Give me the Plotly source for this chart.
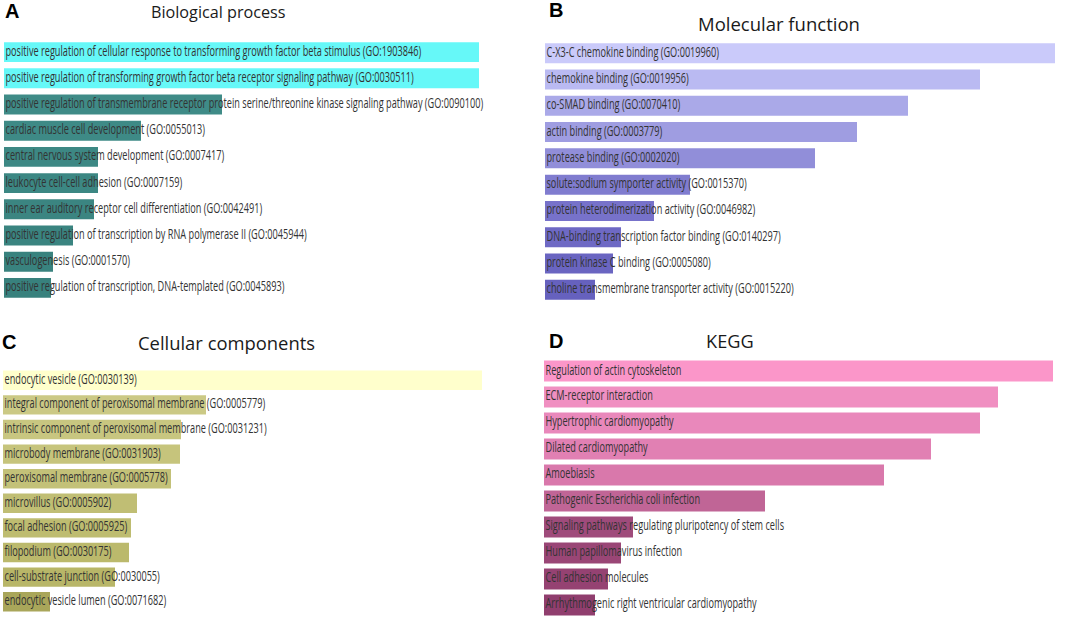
import plotly.graph_objects as go

W, H = 1072, 618

# ---------------- data ----------------
bp_terms = [
    "positive regulation of cellular response to transforming growth factor beta stimulus (GO:1903846)",
    "positive regulation of transforming growth factor beta receptor signaling pathway (GO:0030511)",
    "positive regulation of transmembrane receptor protein serine/threonine kinase signaling pathway (GO:0090100)",
    "cardiac muscle cell development (GO:0055013)",
    "central nervous system development (GO:0007417)",
    "leukocyte cell-cell adhesion (GO:0007159)",
    "inner ear auditory receptor cell differentiation (GO:0042491)",
    "positive regulation of transcription by RNA polymerase II (GO:0045944)",
    "vasculogenesis (GO:0001570)",
    "positive regulation of transcription, DNA-templated (GO:0045893)",
]
bp_values = [475, 475, 218, 137, 94, 94, 90, 69, 49, 47]
bp_colors = ["#66f8f8", "#66f8f8", "#3f8b87", "#3e8a86", "#3d8884", "#3c8783",
             "#3b8581", "#3a8480", "#39827e", "#38817d"]

mf_terms = [
    "C-X3-C chemokine binding (GO:0019960)",
    "chemokine binding (GO:0019956)",
    "co-SMAD binding (GO:0070410)",
    "actin binding (GO:0003779)",
    "protease binding (GO:0002020)",
    "solute:sodium symporter activity (GO:0015370)",
    "protein heterodimerization activity (GO:0046982)",
    "DNA-binding transcription factor binding (GO:0140297)",
    "protein kinase C binding (GO:0005080)",
    "choline transmembrane transporter activity (GO:0015220)",
]
mf_values = [510, 435, 363, 312, 270, 145, 109, 76, 68, 50]
mf_colors = ["#cacafa", "#babaf2", "#aaa9e8", "#9f9de1", "#918ed9", "#807ccf",
             "#7772ca", "#6e69c4", "#6a65c1", "#6661be"]

cc_terms = [
    "endocytic vesicle (GO:0030139)",
    "integral component of peroxisomal membrane (GO:0005779)",
    "intrinsic component of peroxisomal membrane (GO:0031231)",
    "microbody membrane (GO:0031903)",
    "peroxisomal membrane (GO:0005778)",
    "microvillus (GO:0005902)",
    "focal adhesion (GO:0005925)",
    "filopodium (GO:0030175)",
    "cell-substrate junction (GO:0030055)",
    "endocytic vesicle lumen (GO:0071682)",
]
cc_values = [479, 203, 178, 177, 168, 134, 128, 126, 112, 47]
cc_colors = ["#ffffcc", "#cbc985", "#c8c680", "#c6c47c", "#c3c178", "#c0be74",
             "#bebc70", "#bbb96c", "#b8b668", "#a9a65a"]

kegg_terms = [
    "Regulation of actin cytoskeleton",
    "ECM-receptor interaction",
    "Hypertrophic cardiomyopathy",
    "Dilated cardiomyopathy",
    "Amoebiasis",
    "Pathogenic Escherichia coli infection",
    "Signaling pathways regulating pluripotency of stem cells",
    "Human papillomavirus infection",
    "Cell adhesion molecules",
    "Arrhythmogenic right ventricular cardiomyopathy",
]
kegg_values = [509, 454, 436, 387, 340, 221, 89, 77, 64, 51]
kegg_colors = ["#fb96c9", "#f08fc1", "#e988bb", "#e180b3", "#d978ab", "#c06596",
               "#9f4b7b", "#9a4676", "#954272", "#903e6e"]

panel_titles = ["Biological process", "Molecular function", "Cellular components", "KEGG"]
panel_letters = ["A", "B", "C", "D"]

# ---------------- layout geometry (pixels) ----------------
panels = [
    dict(terms=bp_terms, values=bp_values, colors=bp_colors, left=4, top=39, bottom=301, bw=0.76),
    dict(terms=mf_terms, values=mf_values, colors=mf_colors, left=545, top=40, bottom=303, bw=0.76),
    dict(terms=cc_terms, values=cc_values, colors=cc_colors, left=3, top=368, bottom=614, bw=0.79),
    dict(terms=kegg_terms, values=kegg_values, colors=kegg_colors, left=544, top=358, bottom=618, bw=0.80),
]

fig = go.Figure()
label_font = dict(family="Open Sans", size=14, color="#333333")

for i, p in enumerate(panels):
    n = "" if i == 0 else str(i + 1)
    xa, ya = "x" + n, "y" + n
    fig.add_trace(go.Bar(
        x=p["values"], y=p["terms"], orientation="h",
        marker=dict(color=p["colors"], line=dict(width=0)),
        width=p["bw"], xaxis=xa, yaxis=ya, hoverinfo="skip", showlegend=False,
    ))
    fig.add_trace(go.Scatter(
        x=[0] * len(p["terms"]), y=p["terms"], text=p["terms"], mode="text",
        textposition="middle right", textfont=label_font,
        xaxis=xa, yaxis=ya, hoverinfo="skip", showlegend=False, cliponaxis=False,
    ))
    maxv = max(p["values"])
    x0 = p["left"] / W
    x1 = (p["left"] + maxv) / W
    y0 = 1 - p["bottom"] / H
    y1 = 1 - p["top"] / H
    fig.layout["xaxis" + n] = dict(domain=[x0, x1], range=[0, maxv], visible=False,
                                   anchor=ya, fixedrange=True)
    fig.layout["yaxis" + n] = dict(domain=[max(0, y0), y1], visible=False, anchor=xa,
                                   autorange="reversed", type="category", fixedrange=True)

# titles and panel letters
title_pos = [(218, 12, 16.2), (779, 23, 18.5), (226, 342, 18.4), (730, 341, 18.2)]
letter_pos = [(3, 11), (547, 10), (0, 342), (547, 341)]
for t, (tx, ty, ts), L, (lx, ly) in zip(panel_titles, title_pos, panel_letters, letter_pos):
    fig.add_annotation(text=t, x=tx / W, y=1 - ty / H, xref="paper", yref="paper",
                       xanchor="center", yanchor="middle", showarrow=False,
                       font=dict(family="Open Sans", size=ts, color="#1a1a1a"))
    fig.add_annotation(text="<b>" + L + "</b>", x=lx / W, y=1 - ly / H, xref="paper", yref="paper",
                       xanchor="left", yanchor="middle", showarrow=False,
                       font=dict(family="Liberation Sans, Arial", size=20, color="#000000"))

fig.update_layout(width=W, height=H, margin=dict(l=0, r=0, t=0, b=0),
                  paper_bgcolor="white", plot_bgcolor="white", bargap=0.2)

# remove default page margin and condense the bar labels horizontally (as in the reference)
post = """
document.body.style.margin = '0';
var gd = document.getElementById('{plot_id}');
var s = 0.655;
gd.querySelectorAll('g.textpoint text').forEach(function(t){
  var x = parseFloat(t.getAttribute('x'));
  t.setAttribute('transform', 'translate(' + (x*(1-s)+1.5) + ',0) scale(' + s + ',1)');
});
"""

fig.write_html("out.html", post_script=post,
               config={"responsive": False, "displayModeBar": False})
